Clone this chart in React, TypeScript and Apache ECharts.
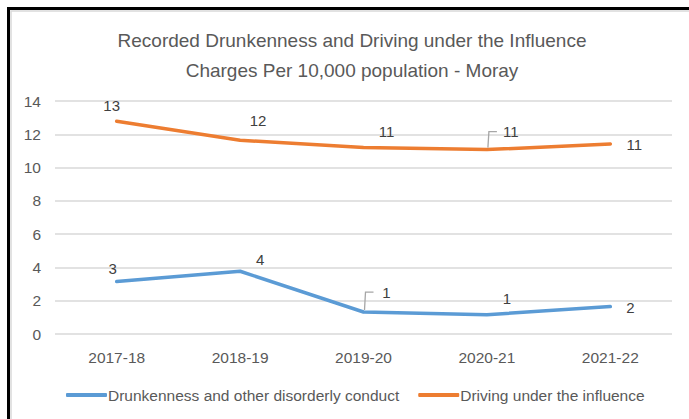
import React, { useEffect, useRef } from "react";
import * as echarts from "echarts";

const categories = ["2017-18", "2018-19", "2019-20", "2020-21", "2021-22"];
const drunkenness = [3.15, 3.77, 1.32, 1.16, 1.65];
const driving = [12.78, 11.64, 11.2, 11.08, 11.42];
const seriesNames = ["Drunkenness and other disorderly conduct", "Driving under the influence"];
const titleText = "Recorded Drunkenness and Driving under the Influence\nCharges Per 10,000 population - Moray";

const FONT = "'Liberation Sans', Arial, sans-serif";

// label offsets relative to the point (styling)
const blueOffsets = [[-4, -13], [20, -12], [23, -20], [20, -16], [20, 1]];
const orangeOffsets = [[-5, -16], [18, -20], [23, -16], [24, -18], [24, 1]];
const blueLeader = [false, false, true, false, false];
const orangeLeader = [false, false, false, true, false];

export default function App() {
  const ref = useRef<HTMLDivElement>(null);
  useEffect(() => {
    const chart = echarts.init(ref.current!, null, { renderer: "svg" });
    const labelCfg = {
      show: true,
      position: "inside",
      color: "#404040",
      fontSize: 15,
      fontFamily: FONT,
      formatter: (p: any) => String(Math.round(p.value)),
    };
    const mkSeries = (name: string, vals: number[], color: string, offs: number[][]) => ({
      name,
      type: "line",
      data: vals.map((v, i) => ({ value: v, label: { offset: offs[i] } })),
      showSymbol: true,
      symbol: "circle",
      symbolSize: 2,
      itemStyle: { color },
      lineStyle: { color, width: 3.5, cap: "round", join: "round" },
      label: labelCfg,
      z: 3,
    });
    chart.setOption({
      animation: false,
      backgroundColor: "#fff",
      title: {
        text: titleText,
        left: 347,
        textAlign: "center",
        top: 20,
        textStyle: {
          color: "#595959",
          fontSize: 19,
          fontWeight: "normal",
          fontFamily: FONT,
          lineHeight: 30,
        },
      },
      legend: {
        top: 382,
        left: 61,
        icon: "roundRect",
        itemWidth: 41,
        itemHeight: 4,
        itemGap: 19,
        textStyle: { color: "#595959", fontSize: 15.5, fontFamily: FONT, padding: [0, 0, 0, -4] },
        data: seriesNames,
      },
      grid: { left: 55, right: 17, top: 101, bottom: 85 },
      xAxis: {
        type: "category",
        data: categories,
        boundaryGap: true,
        axisLine: { show: false },
        axisTick: { show: false },
        axisLabel: { color: "#595959", fontSize: 15.5, fontFamily: FONT, margin: 15 },
      },
      yAxis: {
        type: "value",
        min: 0,
        max: 14,
        interval: 2,
        axisLabel: { color: "#595959", fontSize: 15.5, fontFamily: FONT, margin: 14 },
        splitLine: { lineStyle: { color: "#D9D9D9", width: 1.5 } },
      },
      series: [
        mkSeries(seriesNames[0], drunkenness, "#5B9BD5", blueOffsets),
        mkSeries(seriesNames[1], driving, "#ED7D31", orangeOffsets),
      ],
    });

    // leader lines built from the data through the chart's own scales
    const leaders: any[] = [];
    const addLeaders = (vals: number[], flags: boolean[], offs: number[][]) => {
      vals.forEach((v, i) => {
        if (!flags[i]) return;
        const [px, py] = chart.convertToPixel({ gridIndex: 0 }, [i, v]) as number[];
        const ly = py + offs[i][1];
        leaders.push({
          type: "polyline",
          shape: { points: [[px + 1, py - 2], [px + 2, ly], [px + 10, ly]] },
          style: { stroke: "#A6A6A6", lineWidth: 1.3, fill: "none" },
          silent: true,
          z: 10,
        });
      });
    };
    addLeaders(drunkenness, blueLeader, blueOffsets);
    addLeaders(driving, orangeLeader, orangeOffsets);

    chart.setOption({
      graphic: [
        {
          type: "rect",
          shape: { x: 8.5, y: 8.5, width: 720, height: 440 },
          style: { fill: "none", stroke: "#000", lineWidth: 3 },
          silent: true,
        },
        {
          type: "rect",
          shape: { x: 11, y: 11, width: 720, height: 440 },
          style: { fill: "none", stroke: "#D9D9D9", lineWidth: 1.5 },
          silent: true,
        },
        ...leaders,
      ],
    });
    return () => chart.dispose();
  }, []);
  return (
    <div
      ref={ref}
      style={{ position: "fixed", left: 0, top: 0, width: 689, height: 419 }}
    />
  );
}
